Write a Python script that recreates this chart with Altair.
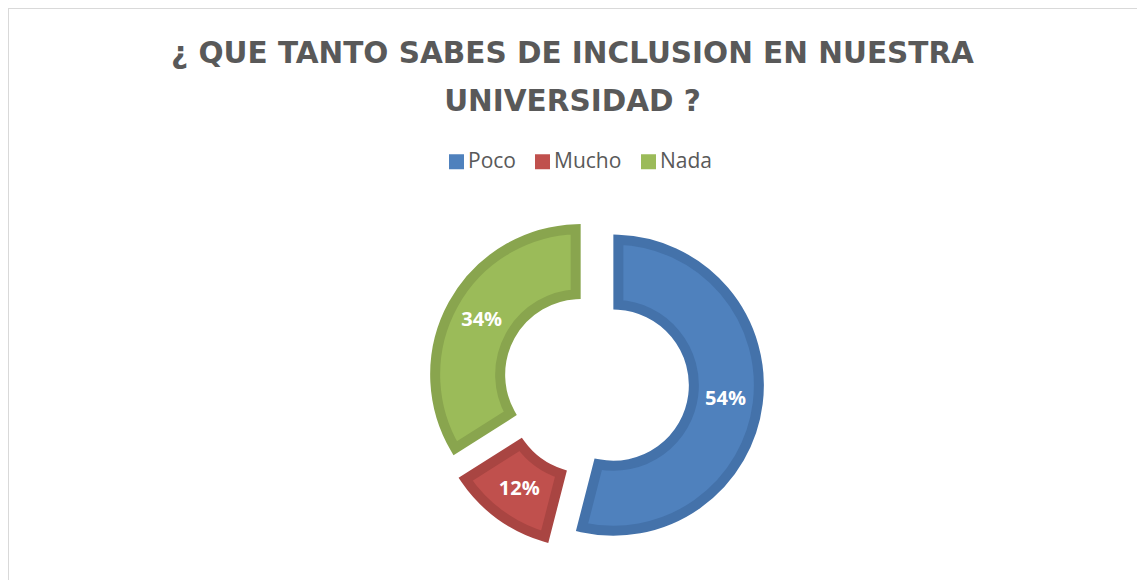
import altair as alt
import pandas as pd

categories = ["Poco", "Mucho", "Nada"]
values = [54, 12, 34]
order = [0, 1, 2]
colors = ["#4F81BD", "#C0504D", "#9BBB59"]
strokes = ["#4472AA", "#A94542", "#89A54E"]

df = pd.DataFrame({"cat": categories, "val": values, "idx": order, "stroke": strokes})

W, H = 1129, 572
CX, CY = 588, 375
EXPL = 17.5
SW = 10
R_OUT, R_IN = 150.5, 75.5
r1, r0 = R_OUT - SW / 2, R_IN + SW / 2
PAD = SW / (r0 ** 2 + r1 ** 2) ** 0.5

base = (
    alt.Chart(df)
    .transform_joinaggregate(total="sum(val)")
    .transform_window(cum="sum(val)", sort=[alt.SortField("idx")], frame=[None, 0])
    .transform_calculate(
        t1="datum.cum / datum.total * 2 * PI",
        t0="(datum.cum - datum.val) / datum.total * 2 * PI",
    )
    .transform_calculate(mid="(datum.t0 + datum.t1) / 2")
    .transform_calculate(
        cx=f"{CX} + {EXPL} * sin(datum.mid)",
        cy=f"{CY} - {EXPL} * cos(datum.mid)",
        pct="format(datum.val / datum.total, '.0%')",
    )
)

arcs = base.mark_arc(
    innerRadius=r0, outerRadius=r1, strokeWidth=SW, strokeJoin="miter", padAngle=PAD
).encode(
    theta=alt.Theta("t0:Q", scale=None),
    theta2="t1:Q",
    x=alt.X("cx:Q", scale=None, axis=None),
    y=alt.Y("cy:Q", scale=None, axis=None),
    color=alt.Color(
        "cat:N",
        scale=alt.Scale(domain=categories, range=colors),
        sort=categories,
        legend=alt.Legend(
            title=None,
            orient="none",
            legendX=438,
            legendY=143,
            direction="horizontal",
            symbolType="square",
            symbolSize=225,
            symbolStrokeWidth=0,
            labelFontSize=21,
            labelFont="Open Sans",
            labelColor="#595959",
            labelOffset=1,
            columnPadding=16,
        ),
    ),
    stroke=alt.Stroke("stroke:N", scale=None, legend=None),
)

labels = base.mark_text(
    radius=113, font="Open Sans", fontSize=20, fontWeight="bold", color="white"
).encode(
    theta=alt.Theta("mid:Q", scale=None),
    x=alt.X("cx:Q", scale=None, axis=None),
    y=alt.Y("cy:Q", scale=None, axis=None),
    text="pct:N",
)

border = alt.Chart(df).mark_rule(color="#d9d9d9", strokeWidth=2).encode(
    x=alt.value(0), x2=alt.value(W + 20), y=alt.value(0)
)
border2 = alt.Chart(df).mark_rule(color="#d9d9d9", strokeWidth=2).encode(
    x=alt.value(0), y=alt.value(0), y2=alt.value(H + 20)
)

chart = (
    alt.layer(border, border2, arcs, labels)
    .properties(
        width=W,
        height=H,
        title=alt.Title(
            ["¿ QUE TANTO SABES DE INCLUSION EN NUESTRA", "UNIVERSIDAD ?"],
            font="DejaVu Sans",
            fontSize=29.5,
            fontWeight="bold",
            color="#595959",
            anchor="middle",
            lineHeight=48,
            offset=-90,
            dy=20,
        ),
        padding=0,
        autosize=alt.AutoSizeParams(type="none"),
    )
    .configure_view(stroke=None)
)

chart.save("out.html", embed_options={"renderer": "svg", "actions": False})
